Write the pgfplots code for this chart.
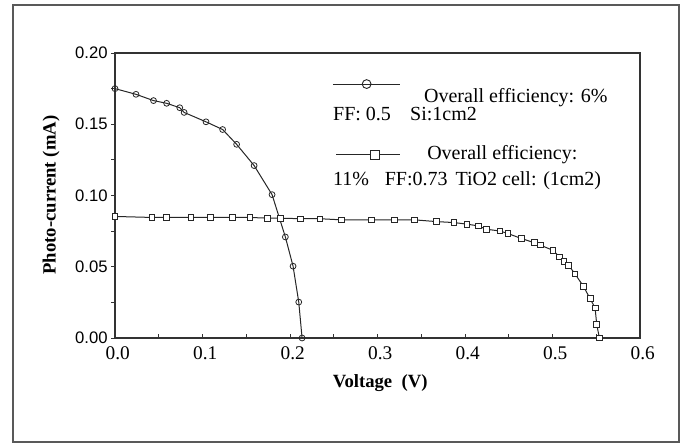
\documentclass[border=0pt]{standalone}
\usepackage{fontspec}
\setmainfont{Liberation Serif}
\newfontfamily\sansfont{Liberation Sans}
\usepackage{pgfplots}
\pgfplotsset{compat=1.18}
\begin{document}
\begin{tikzpicture}
\useasboundingbox (0,0) rectangle (512.25pt,332.25pt);
\draw[line width=1.5pt, black!65] (9.4pt,1pt) rectangle (509.25pt,328.5pt);
\begin{axis}[
  at={(86.25pt,78.75pt)}, anchor=south west,
  scale only axis, width=393.75pt, height=213.75pt,
  xmin=0, xmax=0.6, ymin=0, ymax=0.2,
  xtick={0,0.1,0.2,0.3,0.4,0.5,0.6},
  ytick={0,0.05,0.1,0.15,0.2},
  minor x tick num=1, minor y tick num=1,
  xtick pos=bottom, ytick pos=left,
  tick align=inside,
  major tick length=3pt, minor tick length=3pt,
  y tick style={xshift=-3pt},
  tick style={black!80, line width=0.7pt},
  axis line style={black!80, line width=0.8pt},
  /pgf/number format/assume math mode=true,
  x tick label style={font=\fontsize{14.5}{16}\selectfont, /pgf/number format/.cd, fixed, fixed zerofill, precision=1, /tikz/.cd, xshift=2pt, yshift=-3pt},
  y tick label style={font=\fontsize{12.5}{14}\sansfont, /pgf/number format/.cd, fixed, fixed zerofill, precision=2, /tikz/.cd, xshift=-2pt},
  scaled ticks=false,
  clip=false,
]
\addplot[black!85, line width=0.75pt, mark=o, mark size=2.2pt, mark options={fill=white, line width=0.6pt}] coordinates {
(0,0.175) (0.024,0.171) (0.044,0.1666) (0.059,0.1647) (0.074,0.1616) (0.079,0.1583)
(0.104,0.1517) (0.123,0.1463) (0.139,0.1359) (0.159,0.121) (0.1795,0.1006)
(0.1947,0.0709) (0.2035,0.0504) (0.21,0.0252) (0.2138,0)
};
\addplot[black!85, line width=0.75pt, mark=square*, mark size=2.1pt, mark options={fill=white, line width=0.6pt}] coordinates {
(0,0.0853) (0.042,0.0846) (0.059,0.0846) (0.0866,0.0846) (0.1088,0.0846) (0.134,0.0846)
(0.154,0.0846) (0.1745,0.0841) (0.189,0.0841) (0.212,0.0837) (0.234,0.0837) (0.259,0.0829)
(0.293,0.0829) (0.3196,0.0829) (0.3425,0.0829) (0.367,0.0817) (0.3875,0.081) (0.402,0.0799)
(0.415,0.0787) (0.4245,0.0763) (0.44,0.0751) (0.449,0.0733) (0.4646,0.0698) (0.479,0.0669)
(0.486,0.0652) (0.5006,0.0615) (0.5078,0.057) (0.5128,0.0539) (0.5185,0.0509) (0.5257,0.045)
(0.5353,0.0363) (0.543,0.0276) (0.5487,0.021) (0.5505,0.0097) (0.5536,0)
};
% legend samples
\addplot[black!85, line width=0.75pt, mark=o, mark size=3.3pt, mark indices={2}, mark options={fill=white, line width=0.7pt}] coordinates {(0.249,0.1782) (0.2876,0.1782) (0.326,0.1782)};
\addplot[black!85, line width=0.75pt, mark=square*, mark size=3.1pt, mark indices={2}, mark options={fill=white, line width=0.7pt}] coordinates {(0.253,0.1285) (0.297,0.1285) (0.326,0.1285)};
\begin{scope}[every node/.style={inner sep=0pt, anchor=base west, font=\fontsize{15}{17}\selectfont}]
\node at (axis cs:0.353,0.1654) {Overall efficiency: 6\%};
\node at (axis cs:0.249,0.1527) {FF: 0.5};
\node at (axis cs:0.337,0.1527) {Si:1cm2};
\node at (axis cs:0.3566,0.1255) {Overall efficiency:};
\node at (axis cs:0.249,0.1069) {11\%};
\node at (axis cs:0.308,0.1069) {FF:0.73};
\node at (axis cs:0.389,0.1069) {TiO2 cell: (1cm2)};
\end{scope}
\node[font=\fontsize{14}{16}\selectfont\bfseries] at (axis cs:0.303,-0.0318) {Voltage\ \ (V)};
\node[font=\fontsize{14}{16}\selectfont\bfseries, rotate=90] at (axis cs:-0.0731,0.1003) {Photo-current (mA)};
\end{axis}
\end{tikzpicture}
\end{document}
